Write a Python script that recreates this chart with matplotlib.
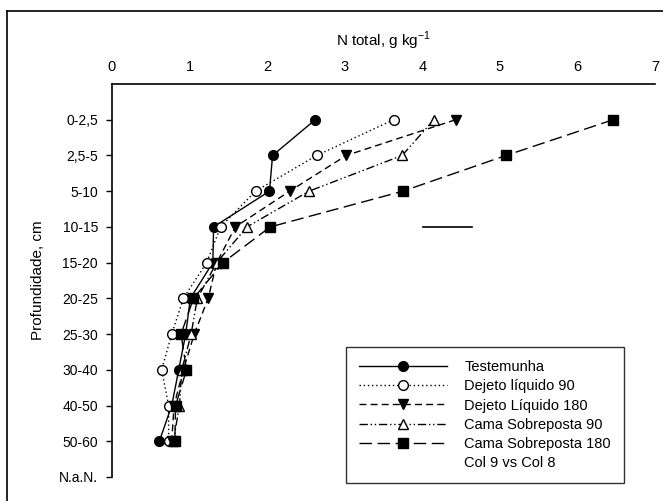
import matplotlib
matplotlib.use("Agg")
import matplotlib.pyplot as plt
from matplotlib.lines import Line2D

plt.rcParams['font.family'] = ['Liberation Sans', 'DejaVu Sans']
plt.rcParams['axes.unicode_minus'] = False

depths = ["0-2,5", "2,5-5", "5-10", "10-15", "15-20", "20-25", "25-30",
          "30-40", "40-50", "50-60", "N.a.N."]
x_ticks = [0, 1, 2, 3, 4, 5, 6, 7]

testemunha = [2.62, 2.07, 2.03, 1.31, 1.30, 1.01, 0.95, 0.86, 0.77, 0.61]
dejeto_liq_90 = [3.63, 2.64, 1.85, 1.40, 1.22, 0.92, 0.77, 0.64, 0.73, 0.73]
dejeto_liq_180 = [4.43, 3.02, 2.29, 1.59, 1.35, 1.24, 1.06, 0.92, 0.80, 0.77]
cama_90 = [4.15, 3.74, 2.54, 1.74, 1.35, 1.10, 1.02, 0.90, 0.87, 0.79]
cama_180 = [6.46, 5.08, 3.75, 2.04, 1.43, 1.05, 0.89, 0.96, 0.82, 0.81]
col9_x = [4.01, 4.64]
col9_depth = [3, 3]

labels = ["Testemunha", "Dejeto líquido 90", "Dejeto Líquido 180",
          "Cama Sobreposta 90", "Cama Sobreposta 180", "Col 9 vs Col 8"]

fig = plt.figure(figsize=(6.63, 5.01), dpi=100)
ax = fig.add_axes([112/663, 1-477/501, (655-112)/663, (477-84)/501])

ypos = list(range(len(testemunha)))

ax.plot(testemunha, ypos, color='black', lw=1.0, ls='-', marker='o',
        ms=7, mfc='black', mec='black')
ax.plot(dejeto_liq_90, ypos, color='black', lw=1.0, ls=(0, (1, 2)), marker='o',
        ms=7, mfc='white', mec='black')
ax.plot(dejeto_liq_180, ypos, color='black', lw=1.0, ls=(0, (5, 3)), marker='v',
        ms=7, mfc='black', mec='black')
ax.plot(cama_90, ypos, color='black', lw=1.0, ls=(0, (6, 2, 1, 2, 1, 2)), marker='^',
        ms=7, mfc='white', mec='black')
ax.plot(cama_180, ypos, color='black', lw=1.0, ls=(0, (9, 4)), marker='s',
        ms=7, mfc='black', mec='black')
ax.plot(col9_x, col9_depth, color='black', lw=1.2, ls='-')

ax.set_xlim(0, 7)
ax.set_ylim(10, -1)
ax.set_yticks(range(len(depths)))
ax.set_yticklabels(depths, fontsize=10)
ax.set_xticks(x_ticks)
ax.set_xticklabels([str(v) for v in x_ticks], fontsize=10.5)
ax.xaxis.tick_top()
ax.xaxis.set_label_position('top')
ax.tick_params(axis='x', length=0, pad=7)
ax.tick_params(axis='y', length=4, width=1, direction='out', pad=6)
ax.spines['right'].set_visible(False)
ax.spines['bottom'].set_visible(False)
ax.spines['top'].set_linewidth(1.2)
ax.spines['left'].set_linewidth(1.2)
ax.spines['left'].set_bounds(10, -1)

ax.set_xlabel("N total, g kg$^{\\mathregular{-1}}$", fontsize=11, labelpad=10)
ax.set_ylabel("Profundidade, cm", fontsize=11, labelpad=10)

handles = [
    Line2D([], [], color='black', lw=1.0, ls='-', marker='o', ms=7, mfc='black'),
    Line2D([], [], color='black', lw=1.0, ls=(0, (1, 2)), marker='o', ms=7, mfc='white'),
    Line2D([], [], color='black', lw=1.0, ls=(0, (5, 3)), marker='v', ms=7, mfc='black'),
    Line2D([], [], color='black', lw=1.0, ls=(0, (6, 2, 1, 2, 1, 2)), marker='^', ms=7, mfc='white'),
    Line2D([], [], color='black', lw=1.0, ls=(0, (9, 4)), marker='s', ms=7, mfc='black'),
    Line2D([], [], color='none', lw=0),
]
leg = ax.legend(handles, labels, loc='lower right', bbox_to_anchor=((624-112)/543, (477-483)/393),
                fontsize=10.5, frameon=True, fancybox=False, edgecolor='black',
                handlelength=6, handletextpad=1.2, labelspacing=0.35,
                borderpad=0.9, borderaxespad=0)
leg.get_frame().set_linewidth(1.0)

# outer frame
fig.add_artist(Line2D([7/663, 7/663], [0, 1-11/501], color='black', lw=1.2,
                      transform=fig.transFigure))
fig.add_artist(Line2D([7/663, 1], [1-11/501, 1-11/501], color='black', lw=1.2,
                      transform=fig.transFigure))

fig.savefig("out.png", dpi=100)
